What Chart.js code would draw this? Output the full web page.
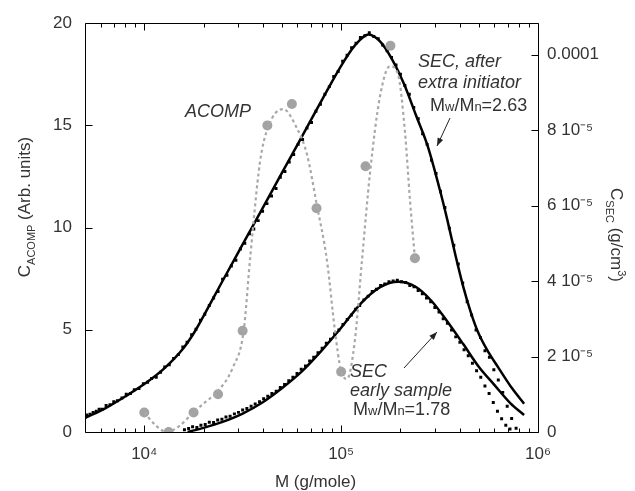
<!DOCTYPE html>
<html><head><meta charset="utf-8">
<script src="https://cdn.jsdelivr.net/npm/chart.js@4"></script>
<style>html,body{margin:0;padding:0;background:#fff;}canvas{display:block;}</style>
</head><body>
<canvas id="c" width="635" height="491"></canvas>
<script>
// ---------- DATA ----------
// ACOMP (left axis, arbitrary units)
const acompM = [10000, 13300, 17800, 23700, 31600, 42200, 56200, 75000, 100000, 133000, 178000, 237000];
const acompC = [0.95, 0.0, 0.95, 1.85, 4.95, 15.0, 16.05, 10.95, 2.95, 13.0, 18.9, 8.5];
// dotted guide through ACOMP points (left axis)
const acompFitM = [10000, 11500, 13000, 15100, 17600, 20400, 23400, 28200, 32000, 34400, 38700, 42500, 50700, 59700, 67000, 75300, 84700, 92900, 99800, 107200, 117500, 127600, 140300, 157400, 177000, 194500, 210900, 223900, 237000];
const acompFitC = [0.95, 0.3, 0.0, 0.3, 0.92, 1.46, 1.95, 3.16, 4.96, 8.37, 13.2, 14.9, 15.8, 14.85, 13.6, 11.1, 8.4, 5.0, 3.0, 2.6, 4.5, 8.4, 12.7, 16.4, 17.9, 17.5, 14.7, 11.3, 8.5];
// SEC after extra initiator (right axis, units of 1e-5 g/cm3): fitted curve
const secLateLineM = [5000, 6300, 8000, 10000, 12600, 15800, 18000, 20000, 25100, 31600, 39800, 50100, 63100, 79400, 100000, 117000, 138000, 158000, 182000, 209000, 240000, 275000, 316000, 347000, 380000, 417000, 457000, 500000, 562000, 630000, 740000, 850000];
const secLateLineC = [0.37, 0.62, 0.94, 1.27, 1.68, 2.22, 2.65, 3.07, 4.02, 4.97, 5.92, 6.87, 7.82, 8.77, 9.70, 10.23, 10.53, 10.34, 9.86, 9.21, 8.39, 7.58, 6.45, 5.6, 4.7, 3.85, 3.15, 2.6, 2.1, 1.7, 1.15, 0.75];
// SEC after extra initiator: raw points
const secLateDotsM = [5100, 5300, 5500, 5700, 5900, 6100, 6400, 6700, 7000, 7300, 7700, 8100, 8500, 8900, 9400, 9900, 10400, 10900, 11500, 12100, 12700, 13400, 14100, 14900, 15700, 16500, 17400, 18300, 19300, 20300, 21400, 22500, 23700, 25000, 26300, 27700, 29200, 30800, 32400, 34200, 36000, 37900, 39900, 42000, 44300, 46700, 49100, 51800, 54500, 57400, 60500, 63700, 67100, 70700, 74500, 78500, 82700, 87100, 91700, 96600, 101800, 107200, 113000, 119000, 125300, 132000, 139000, 146500, 154300, 162500, 171200, 180300, 190000, 200100, 210800, 222000, 233900, 246400, 259500, 273400, 288000, 303400, 319600, 336600, 354600, 373600, 393500, 414500, 436700, 460000, 484600, 510500, 537700, 566400, 596700, 628600, 662100, 697500, 734700, 774000];
const secLateDotsC = [0.45, 0.47, 0.52, 0.55, 0.60, 0.60, 0.70, 0.72, 0.80, 0.83, 0.90, 1.00, 1.02, 1.12, 1.15, 1.28, 1.32, 1.42, 1.45, 1.58, 1.72, 1.78, 1.95, 2.05, 2.25, 2.38, 2.58, 2.72, 2.96, 3.12, 3.35, 3.55, 3.72, 4.05, 4.15, 4.40, 4.55, 4.85, 5.00, 5.25, 5.38, 5.60, 5.85, 6.05, 6.25, 6.45, 6.75, 6.90, 7.15, 7.35, 7.62, 7.75, 8.05, 8.20, 8.50, 8.68, 8.95, 9.15, 9.42, 9.55, 9.82, 9.98, 10.18, 10.30, 10.45, 10.50, 10.58, 10.48, 10.42, 10.25, 10.10, 9.92, 9.72, 9.48, 9.18, 8.95, 8.60, 8.30, 7.90, 7.62, 7.20, 6.85, 6.38, 5.95, 5.40, 4.95, 4.45, 3.95, 3.45, 3.10, 2.70, 2.50, 2.15, 1.98, 1.65, 1.38, 1.05, 0.68, 0.36, 0.10];
// SEC early sample: fitted curve
const secEarlyLineM = [16600, 20000, 25000, 31600, 40000, 50000, 63000, 80000, 100000, 126000, 158000, 195000, 240000, 288000, 347000, 417000, 500000, 600000, 725000, 850000];
const secEarlyLineC = [0.0, 0.11, 0.27, 0.49, 0.79, 1.16, 1.60, 2.17, 2.76, 3.41, 3.84, 3.98, 3.84, 3.47, 2.92, 2.33, 1.73, 1.25, 0.76, 0.45];
// SEC early sample: raw points
const secEarlyDotsM = [16000, 16800, 17600, 18500, 19400, 20400, 21400, 22500, 23600, 24800, 26000, 27300, 28700, 30100, 31600, 33200, 34900, 36600, 38500, 40400, 42400, 44500, 46800, 49100, 51600, 54200, 56900, 59700, 62700, 65900, 69200, 72600, 76300, 80100, 84100, 88300, 92700, 97400, 102200, 107400, 112700, 118400, 124300, 130500, 137100, 143900, 151100, 158700, 166600, 175000, 183700, 192900, 202600, 212700, 223300, 234500, 246200, 258500, 271500, 285000, 299300, 314300, 330000, 346500, 363800, 382000, 401100, 421200, 442200, 464400, 487600, 512000, 537600, 564400, 592700, 622300, 653400, 686100, 720400];
const secEarlyDotsC = [0.06, 0.09, 0.14, 0.12, 0.18, 0.20, 0.26, 0.25, 0.32, 0.34, 0.40, 0.42, 0.48, 0.52, 0.58, 0.62, 0.68, 0.74, 0.80, 0.88, 0.95, 1.02, 1.08, 1.18, 1.26, 1.36, 1.45, 1.55, 1.66, 1.75, 1.88, 1.98, 2.10, 2.22, 2.35, 2.46, 2.60, 2.70, 2.85, 2.98, 3.10, 3.25, 3.35, 3.50, 3.60, 3.72, 3.78, 3.88, 3.92, 3.98, 4.00, 4.02, 3.98, 3.96, 3.88, 3.85, 3.75, 3.66, 3.55, 3.45, 3.30, 3.18, 3.00, 2.88, 2.70, 2.52, 2.38, 2.18, 2.02, 1.82, 1.62, 1.45, 1.22, 1.02, 0.78, 0.55, 0.35, 0.18, 0.08];
// axes
const xMin = 5000, xMax = 1000000;
const xMajorTicks = [10000, 100000, 1000000];
const xTickLabels = ['10⁴', '10⁵', '10⁶'];
const xMinorTicks = [6000, 7000, 8000, 9000, 20000, 30000, 40000, 50000, 60000, 70000, 80000, 90000, 200000, 300000, 400000, 500000, 600000, 700000, 800000, 900000];
const leftTicks = [0, 5, 10, 15, 20];
const leftMax = 20;
const rightTicks = [0, 2, 4, 6, 8, 10];           // units of 1e-5 g/cm3
const rightTickLabels = ['0', '2 10⁻⁵', '4 10⁻⁵', '6 10⁻⁵', '8 10⁻⁵', '0.0001'];
const rightMax = 10.83;

// ---------- helpers ----------
const FAM = '"Liberation Sans", Arial, Helvetica, sans-serif';
const TXT = '#333333';
const pts = (xs, ys) => xs.map((m, i) => ({x: m, y: ys[i]}));
function fontStr(p){ return (p.italic ? 'italic ' : '') + p.size + 'px ' + FAM; }
function drawRich(ctx, parts, x, y, align, rot){
  ctx.save(); ctx.translate(x, y); if (rot) ctx.rotate(rot);
  let w = 0;
  for (const p of parts){ ctx.font = fontStr(p); w += ctx.measureText(p.t).width; }
  let cx = align === 'center' ? -w/2 : (align === 'right' ? -w : 0);
  ctx.textAlign = 'left'; ctx.textBaseline = 'alphabetic'; ctx.fillStyle = TXT;
  for (const p of parts){ ctx.font = fontStr(p); ctx.fillText(p.t, cx, p.dy || 0); cx += ctx.measureText(p.t).width; }
  ctx.restore();
}
function arrow(ctx, x1, y1, x2, y2){
  ctx.save(); ctx.strokeStyle = '#222'; ctx.fillStyle = '#222'; ctx.lineWidth = 1;
  ctx.beginPath(); ctx.moveTo(x1, y1); ctx.lineTo(x2, y2); ctx.stroke();
  const a = Math.atan2(y2 - y1, x2 - x1), L = 8, W = 3;
  ctx.beginPath(); ctx.moveTo(x2, y2);
  ctx.lineTo(x2 - L*Math.cos(a) + W*Math.sin(a), y2 - L*Math.sin(a) - W*Math.cos(a));
  ctx.lineTo(x2 - L*Math.cos(a) - W*Math.sin(a), y2 - L*Math.sin(a) + W*Math.cos(a));
  ctx.closePath(); ctx.fill();
  ctx.restore();
}

const decor = {
  id: 'decor',
  afterDatasetsDraw(chart){
    const {ctx, chartArea: a, scales} = chart;
    const x = scales.x, y = scales.y, y2 = scales.y2;
    ctx.save();
    ctx.strokeStyle = '#000'; ctx.lineWidth = 1;
    const L = Math.round(a.left) + 0.5, R = Math.round(a.right) + 0.5, T = Math.round(a.top) + 0.5, B = Math.round(a.bottom) + 0.5;
    ctx.beginPath(); ctx.rect(L, T, R - L, B - T); ctx.stroke();
    ctx.beginPath();
    for (const v of xMajorTicks){ const px = Math.round(x.getPixelForValue(v)) + 0.5; ctx.moveTo(px, B); ctx.lineTo(px, B - 7); ctx.moveTo(px, T); ctx.lineTo(px, T + 7); }
    for (const v of xMinorTicks){ const px = Math.round(x.getPixelForValue(v)) + 0.5; ctx.moveTo(px, B); ctx.lineTo(px, B - 4); ctx.moveTo(px, T); ctx.lineTo(px, T + 4); }
    for (const v of leftTicks){ const py = Math.round(y.getPixelForValue(v)) + 0.5; ctx.moveTo(L, py); ctx.lineTo(L + 7, py); }
    for (const v of rightTicks){ const py = Math.round(y2.getPixelForValue(v)) + 0.5; ctx.moveTo(R, py); ctx.lineTo(R - 7, py); }
    ctx.stroke();
    ctx.restore();

    // axis titles
    drawRich(ctx, [{t:'C', size:17}, {t:'ACOMP', size:11, dy:5}, {t:' (Arb. units)', size:17}], 30, 207, 'center', -Math.PI/2);
    drawRich(ctx, [{t:'C', size:17}, {t:'SEC', size:11, dy:5}, {t:' (g/cm', size:17}, {t:'3', size:11, dy:-7}, {t:')', size:17}], 611, 235, 'center', Math.PI/2);
    drawRich(ctx, [{t:'M (g/mole)', size:17}], (a.left + a.right)/2 + 4, 487, 'center', 0);

    // annotations
    drawRich(ctx, [{t:'ACOMP', size:18, italic:true}], 185, 117, 'left', 0);
    drawRich(ctx, [{t:'SEC, after', size:18, italic:true}], 418, 67, 'left', 0);
    drawRich(ctx, [{t:'extra initiator', size:18, italic:true}], 418, 88, 'left', 0);
    drawRich(ctx, [{t:'M', size:18}, {t:'w', size:13}, {t:'/M', size:18}, {t:'n', size:13}, {t:'=2.63', size:18}], 430, 111, 'left', 0);
    arrow(ctx, 450, 118, 437, 146);
    drawRich(ctx, [{t:'SEC', size:18, italic:true}], 350, 377, 'left', 0);
    drawRich(ctx, [{t:'early sample', size:18, italic:true}], 350, 396, 'left', 0);
    drawRich(ctx, [{t:'M', size:18}, {t:'w', size:13}, {t:'/M', size:18}, {t:'n', size:13}, {t:'=1.78', size:18}], 353, 415, 'left', 0);
    arrow(ctx, 404, 368, 437, 332);
  }
};

const tickFont = {family: FAM, size: 17};

new Chart(document.getElementById('c'), {
  type: 'scatter',
  data: {
    datasets: [
      {label: 'ACOMP guide', data: pts(acompFitM, acompFitC), yAxisID: 'y', showLine: true, borderColor: '#a8a8a8', borderWidth: 2.2, borderDash: [3, 3], pointRadius: 0, cubicInterpolationMode: 'monotone', fill: false},
      {label: 'ACOMP', data: pts(acompM, acompC), yAxisID: 'y', showLine: false, pointRadius: 5, backgroundColor: '#a3a3a3', borderWidth: 0},
      {label: 'SEC late fit', data: pts(secLateLineM, secLateLineC), yAxisID: 'y2', showLine: true, borderColor: '#000', borderWidth: 2.5, pointRadius: 0, cubicInterpolationMode: 'monotone'},
      {label: 'SEC early fit', data: pts(secEarlyLineM, secEarlyLineC), yAxisID: 'y2', showLine: true, borderColor: '#000', borderWidth: 2.5, pointRadius: 0, cubicInterpolationMode: 'monotone'},
      {label: 'SEC late', data: pts(secLateDotsM, secLateDotsC), yAxisID: 'y2', showLine: false, pointStyle: 'rect', pointRadius: 2.1, backgroundColor: '#000', borderWidth: 0},
      {label: 'SEC early', data: pts(secEarlyDotsM, secEarlyDotsC), yAxisID: 'y2', showLine: false, pointStyle: 'rect', pointRadius: 2.1, backgroundColor: '#000', borderWidth: 0}
    ]
  },
  options: {
    responsive: false, animation: false, devicePixelRatio: 1,
    layout: {padding: {top: 21, left: 0, right: 0, bottom: 0}},
    plugins: {legend: {display: false}, tooltip: {enabled: false}},
    scales: {
      x: {
        type: 'logarithmic', position: 'bottom', min: xMin, max: xMax,
        grid: {display: false, drawTicks: false}, border: {display: false},
        ticks: {font: tickFont, color: TXT, padding: 12, autoSkip: false, maxRotation: 0,
                callback: (v, i) => xTickLabels[i]},
        afterBuildTicks: s => { s.ticks = xMajorTicks.map(v => ({value: v})); },
        afterFit: s => { s.height = 59; }
      },
      y: {
        type: 'linear', position: 'left', min: 0, max: leftMax,
        grid: {display: false, drawTicks: false}, border: {display: false},
        ticks: {font: tickFont, color: TXT, padding: 13, callback: (v) => String(v)},
        afterBuildTicks: s => { s.ticks = leftTicks.map(v => ({value: v})); },
        afterFit: s => { s.width = 85; }
      },
      y2: {
        type: 'linear', position: 'right', min: 0, max: rightMax,
        grid: {display: false, drawTicks: false}, border: {display: false},
        ticks: {font: tickFont, color: TXT, padding: 9, callback: (v, i) => rightTickLabels[i]},
        afterBuildTicks: s => { s.ticks = rightTicks.map(v => ({value: v})); },
        afterFit: s => { s.width = 97; }
      }
    }
  },
  plugins: [decor]
});
</script>
</body></html>
